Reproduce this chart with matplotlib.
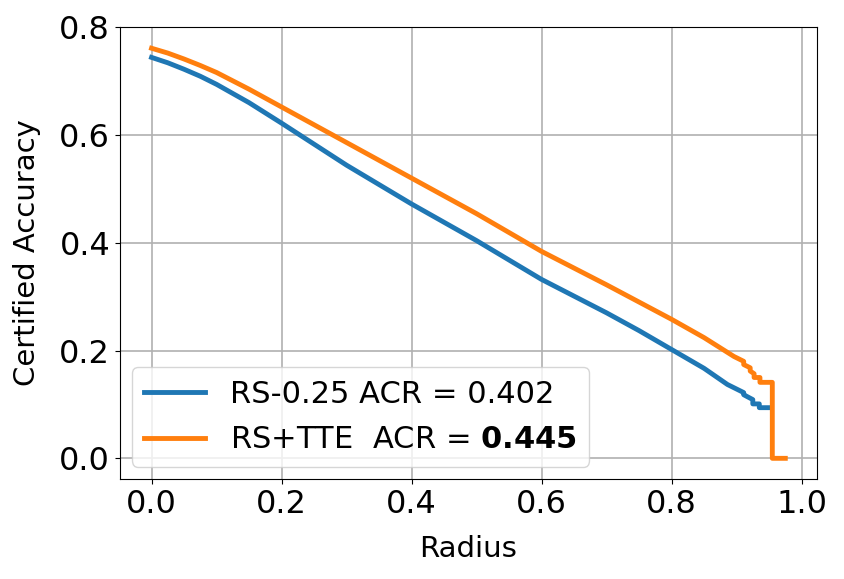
import numpy as np
import matplotlib
matplotlib.use('Agg')
import matplotlib.pyplot as plt

# certified accuracy vs radius
rs_radius = [0.0, 0.025, 0.05, 0.075, 0.1, 0.15, 0.2, 0.25, 0.3, 0.35, 0.4, 0.45, 0.5,
             0.55, 0.6, 0.65, 0.7, 0.75, 0.8, 0.85, 0.886, 0.911, 0.911, 0.925,
             0.925, 0.935, 0.935, 0.950]
rs_acc = [0.744, 0.734, 0.722, 0.709, 0.694, 0.660, 0.622, 0.583, 0.544, 0.508,
          0.472, 0.438, 0.404, 0.368, 0.332, 0.301, 0.270, 0.237, 0.202, 0.167,
          0.137, 0.122, 0.118, 0.109, 0.101, 0.101, 0.094, 0.094]

tte_radius = [0.0, 0.025, 0.05, 0.075, 0.1, 0.15, 0.2, 0.25, 0.3, 0.35, 0.4, 0.45,
              0.5, 0.55, 0.6, 0.65, 0.7, 0.75, 0.8, 0.85, 0.896, 0.911, 0.911,
              0.921, 0.921, 0.927, 0.927, 0.936, 0.936, 0.955, 0.955, 0.975]
tte_acc = [0.761, 0.752, 0.741, 0.729, 0.716, 0.685, 0.652, 0.619, 0.586, 0.553,
           0.520, 0.487, 0.454, 0.419, 0.384, 0.353, 0.322, 0.290, 0.258, 0.224,
           0.189, 0.180, 0.174, 0.168, 0.162, 0.157, 0.150, 0.150, 0.141, 0.141,
           0.0, 0.0]

labels = ['RS-0.25 ACR = 0.402', r'RS+TTE  ACR = $\mathbf{0.445}$']

fig = plt.figure(figsize=(8.44, 5.79), dpi=100)
ax = fig.add_subplot(111)
fig.subplots_adjust(left=0.142, right=0.968, top=0.953, bottom=0.173)

ax.plot(rs_radius, rs_acc, color='#1f77b4', linewidth=3.5, label=labels[0])
ax.plot(tte_radius, tte_acc, color='#ff7f0e', linewidth=3.5, label=labels[1])

ax.set_xlabel('Radius', fontsize=21, labelpad=11)
ax.set_ylabel('Certified Accuracy', fontsize=21, labelpad=13)
ax.set_xticks(np.arange(0, 1.01, 0.2))
ax.set_yticks(np.arange(0, 0.81, 0.2))
ax.tick_params(labelsize=23)
ax.grid(True, color='#b0b0b0', linewidth=1.2)
ax.legend(loc='lower left', fontsize=22, borderaxespad=0.4, labelspacing=0.55)

fig.savefig('out.png', dpi=100)
